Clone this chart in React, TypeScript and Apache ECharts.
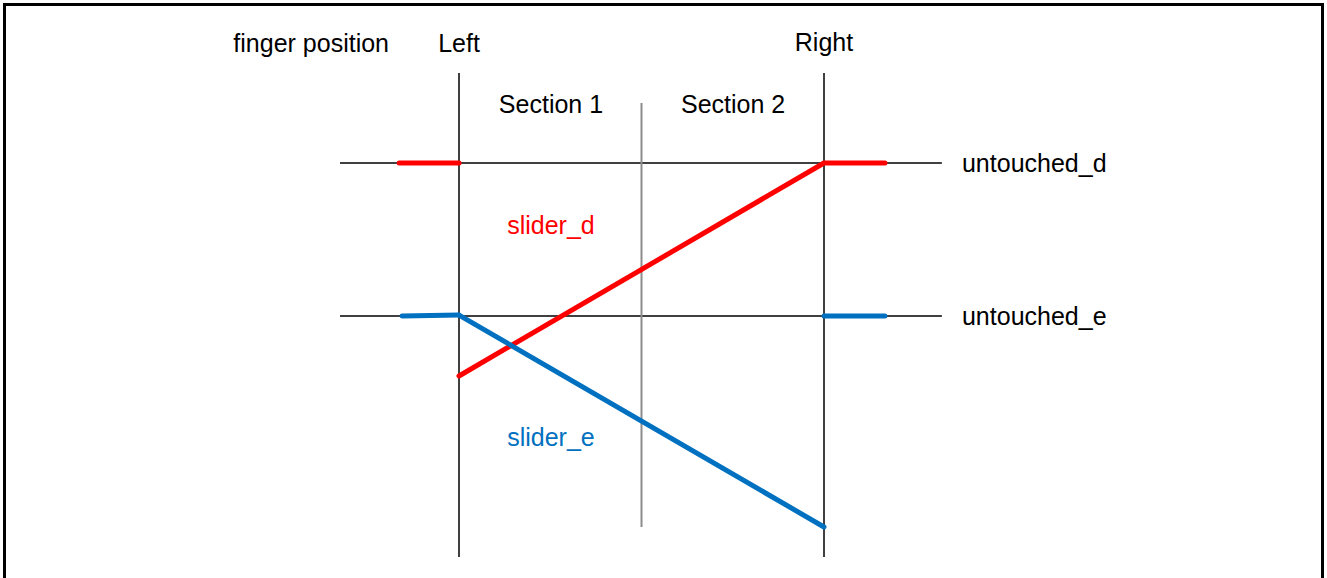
import React, { useEffect, useRef } from "react";
import * as echarts from "echarts";

// Domain: finger position (Left = 0, Right = 100), level (untouched_e = 0, untouched_d = 100)
const guideHorizontalD: number[][] = [[-32.6, 100], [132.3, 100]];
const guideHorizontalE: number[][] = [[-32.6, 0], [132.3, 0]];
const guideLeft: number[][] = [[0, 158.8], [0, -157.5]];
const guideRight: number[][] = [[100, 158.8], [100, -157.5]];
const guideMiddle: number[][] = [[50, 139.2], [50, -137.9]];

const redStub: number[][] = [[-16.4, 100], [0, 100]];
const redMain: number[][] = [[0, -39.2], [100, 100], [116.7, 100]];
const blueStubLeft: number[][] = [[-15.6, 0], [0, 0.6]];
const blueMain: number[][] = [[0, 0.6], [100, -137.9]];
const blueStubRight: number[][] = [[100, 0], [116.7, 0]];

const centerLabelNames = ["finger position", "Left", "Right", "Section 1", "Section 2", "slider_d", "slider_e"];
const centerLabelAt: number[][] = [[-40.5, 178.4], [0, 178.4], [100, 179], [25.2, 138.6], [75.1, 138.6], [25.2, 59.5], [25.2, -79.1]];
const centerLabelColors = ["#000000", "#000000", "#000000", "#000000", "#000000", "#ff0000", "#0070c0"];
const leftLabelNames = ["untouched_d", "untouched_e"];
const leftLabelAt: number[][] = [[137.8, 100], [137.8, 0]];

const W = 1327;
const H = 578;
const X0 = 459, XS = 3.65, Y0 = 316, YS = 1.53;

export default function App() {
  const ref = useRef<HTMLDivElement>(null);
  useEffect(() => {
    if (!ref.current) return;
    const chart = echarts.init(ref.current, undefined, { renderer: "svg" });
    const gray = (data: number[][], color = "#404040", width = 2) => ({
      type: "line",
      data,
      symbol: "none",
      silent: true,
      z: 1,
      lineStyle: { color, width },
    });
    const colored = (data: number[][], color: string) => ({
      type: "line",
      data,
      symbol: "none",
      silent: true,
      z: 3,
      lineStyle: { color, width: 5, cap: "round", join: "round" },
    });
    chart.setOption({
      animation: false,
      backgroundColor: "#ffffff",
      grid: { left: 0, top: 0, width: W, height: H, containLabel: false },
      xAxis: { type: "value", min: -X0 / XS, max: (W - X0) / XS, show: false },
      yAxis: { type: "value", min: (Y0 - H) / YS, max: Y0 / YS, show: false },
      series: [
        gray(guideHorizontalD),
        gray(guideHorizontalE),
        gray(guideLeft),
        gray(guideRight),
        gray(guideMiddle, "#8c8c8c", 2),
        colored(redStub, "#ff0000"),
        colored(redMain, "#ff0000"),
        colored(blueStubLeft, "#0070c0"),
        colored(blueMain, "#0070c0"),
        colored(blueStubRight, "#0070c0"),
      ],
    });
    const font = { fontSize: 25, fontFamily: "Liberation Sans" };
    const texts: any[] = [];
    centerLabelNames.forEach((name, i) => {
      const p = chart.convertToPixel({ gridIndex: 0 }, centerLabelAt[i]) as number[];
      texts.push({
        type: "text",
        x: p[0],
        y: p[1],
        silent: true,
        z: 5,
        style: { text: name, fill: centerLabelColors[i], align: "center", verticalAlign: "middle", ...font },
      });
    });
    leftLabelNames.forEach((name, i) => {
      const p = chart.convertToPixel({ gridIndex: 0 }, leftLabelAt[i]) as number[];
      texts.push({
        type: "text",
        x: p[0],
        y: p[1],
        silent: true,
        z: 5,
        style: { text: name, fill: "#000000", align: "left", verticalAlign: "middle", ...font },
      });
    });
    texts.push({
      type: "rect",
      shape: { x: 4.5, y: 4.5, width: 1318, height: 620 },
      style: { fill: "none", stroke: "#000000", lineWidth: 3 },
      silent: true,
      z: 10,
    });
    chart.setOption({ graphic: texts });
    return () => chart.dispose();
  }, []);
  return <div ref={ref} style={{ position: "fixed", left: 0, top: 0, width: W, height: H }} />;
}
